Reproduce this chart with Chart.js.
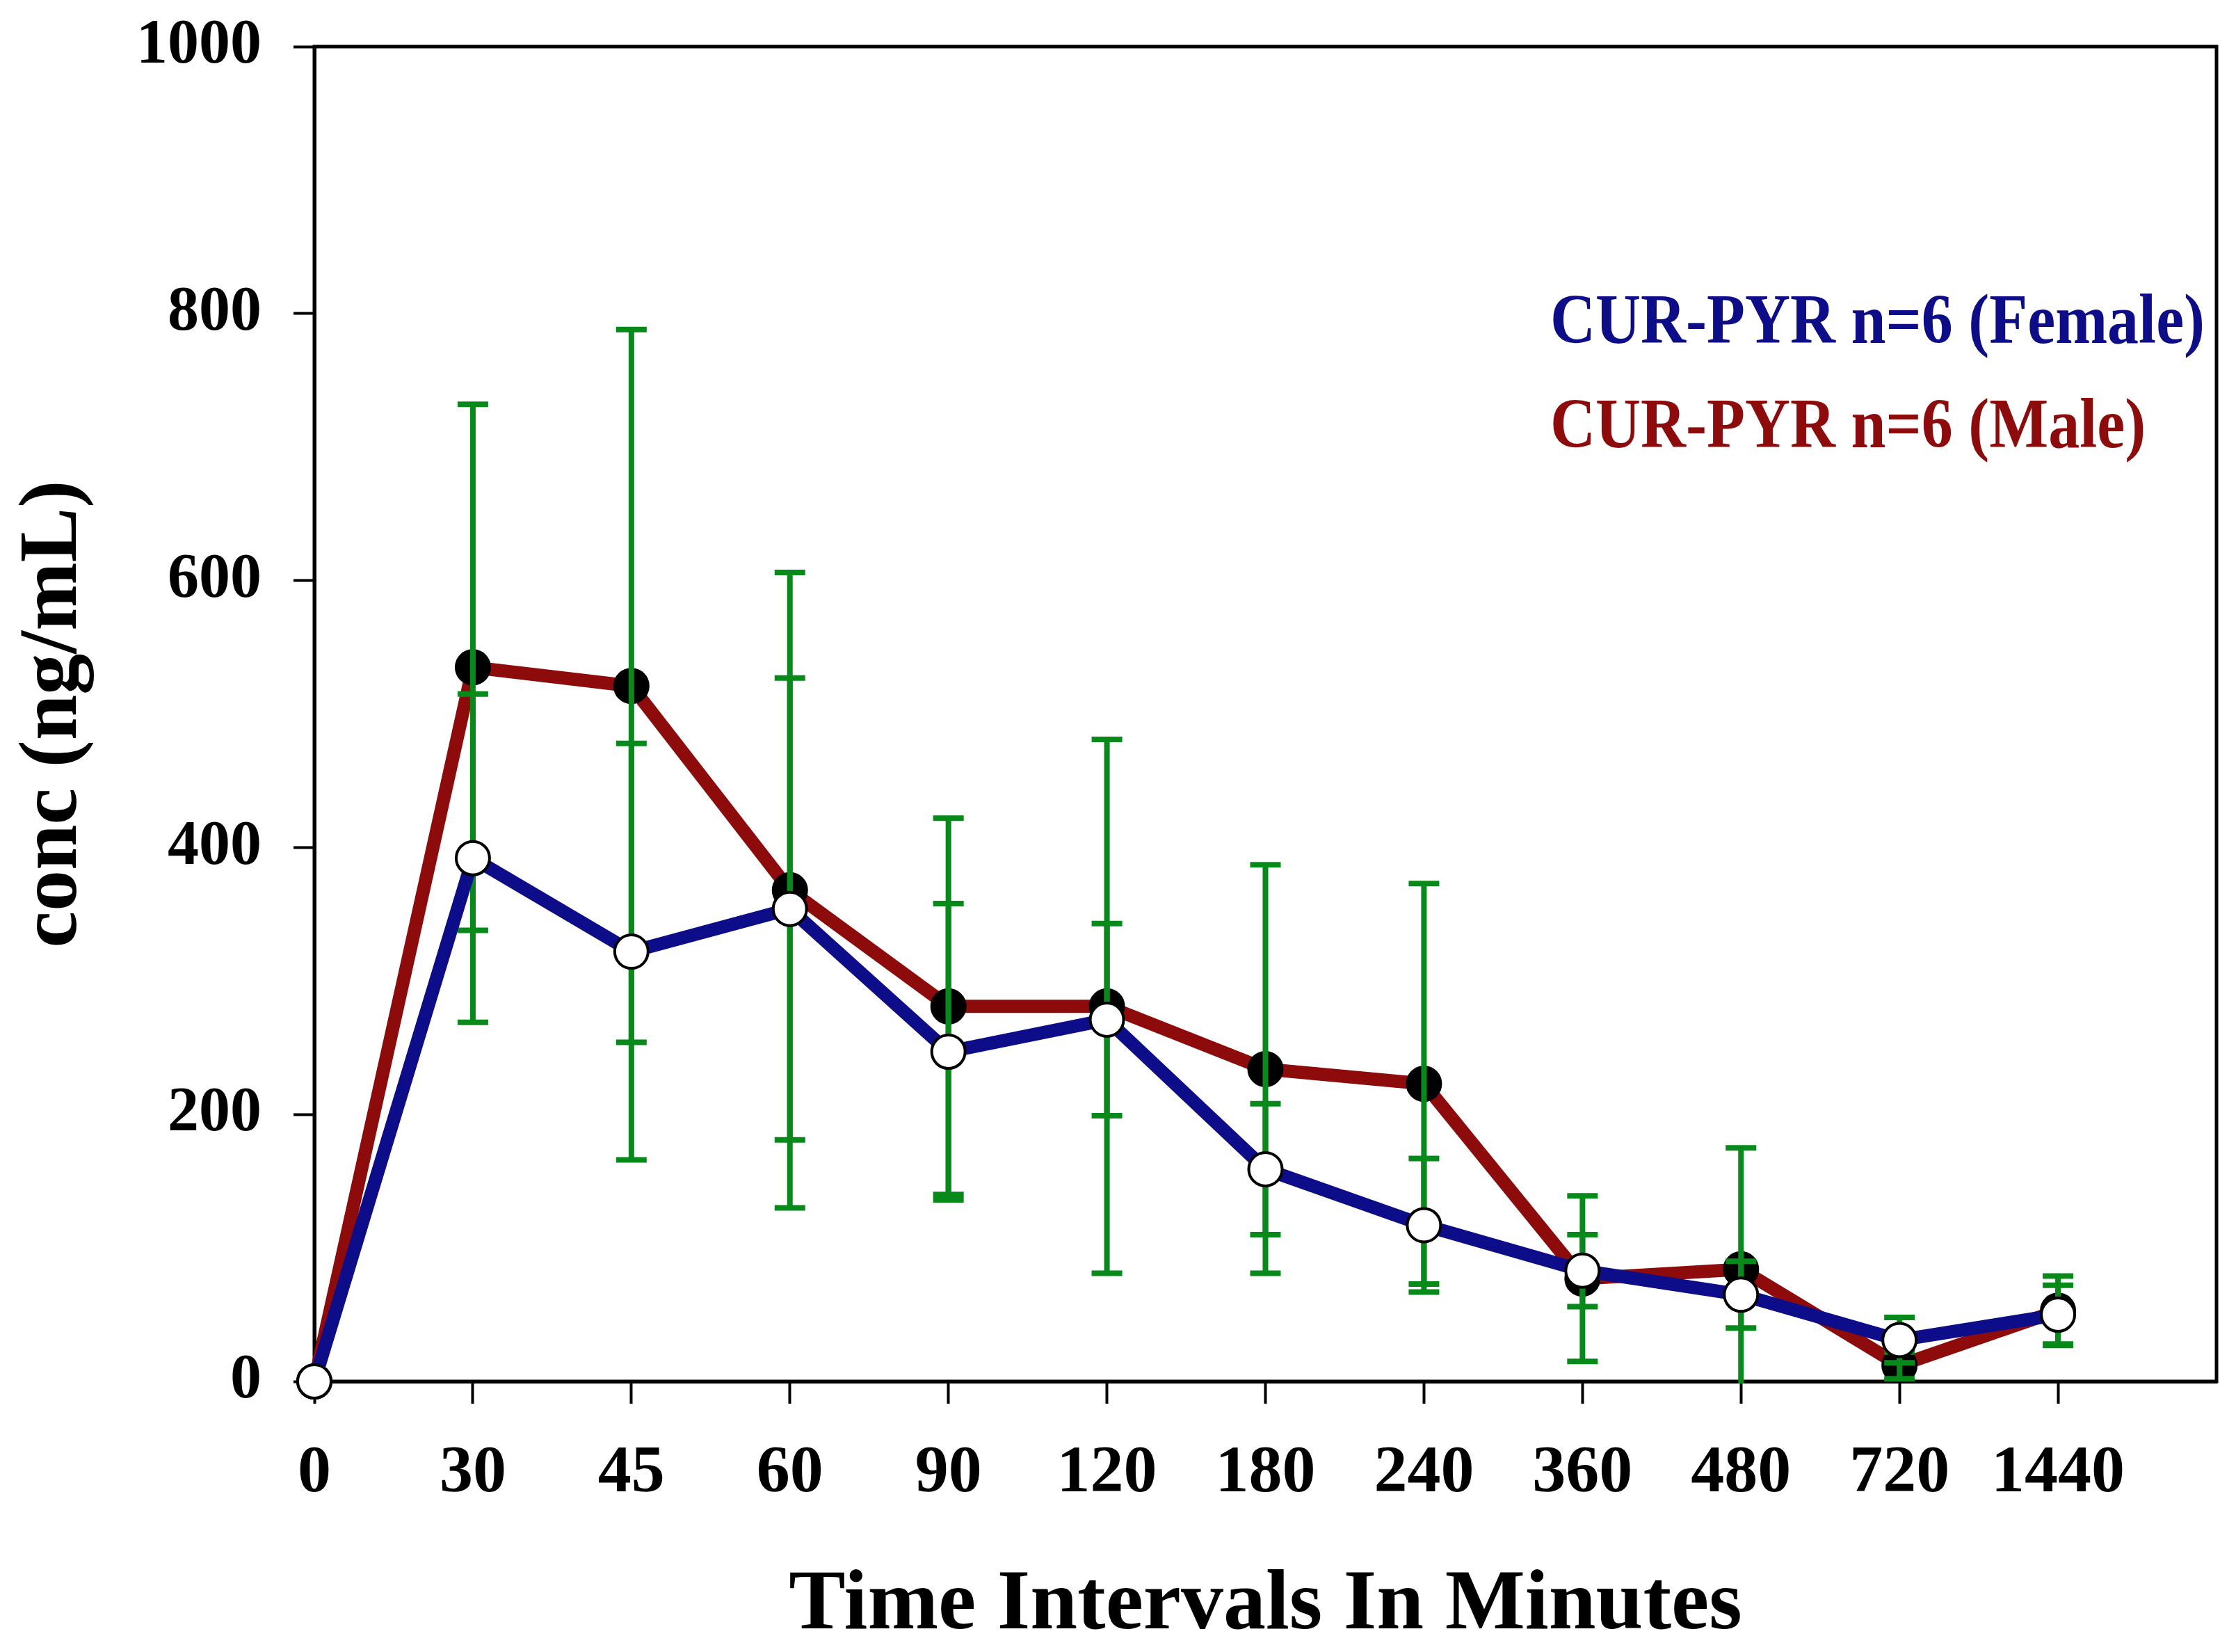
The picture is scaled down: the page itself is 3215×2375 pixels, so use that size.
<!DOCTYPE html>
<html><head><meta charset="utf-8">
<script src="https://cdn.jsdelivr.net/npm/chart.js@4.4.1/dist/chart.umd.min.js"></script>
<style>html,body{margin:0;padding:0;background:#fff;} #wrap{width:3215px;height:2375px;}</style>
</head><body><div id="wrap"><canvas id="c" width="3215" height="2375"></canvas></div>
<script>
const timeLabels = ['0','30','45','60','90','120','180','240','360','480','720','1440'];
const femaleMean = [0,392,322,354,247,271,159,117,83,65,31,50];
const femaleSD   = [0,123,156,173,111,72,49,50,27,25,17,22];
const maleMean   = [0,535,521,368,281,281,234,223,77,84,12,53];
const maleSD     = [0,197,267,238,141,200,153,150,62,91,10,26];
const yTicks = [0,200,400,600,800,1000];
const seriesLabels = ['CUR-PYR n=6 (Female)','CUR-PYR n=6 (Male)'];
const seriesColors = ['#0d0d8a','#8e0b0b'];
const errColor = '#078a1a';
const FONT = '"Liberation Serif", "Times New Roman", serif';

const toPts = arr => arr.map((v,i)=>({x:i,y:v}));

const errorBars = {
  id:'errorBars',
  afterDatasetDraw(chart,args){
    if(args.index!==1) return;
    const {ctx, chartArea:a, scales:{x,y}} = chart;
    ctx.save();
    ctx.beginPath(); ctx.rect(a.left,a.top-5,a.right-a.left,a.bottom-a.top+8); ctx.clip();
    ctx.strokeStyle = errColor; ctx.lineWidth = 8; ctx.lineCap='butt';
    const sets = [[maleMean,maleSD],[femaleMean,femaleSD]];
    sets.forEach(([m,s])=>{
      m.forEach((v,i)=>{
        if(!s[i]) return;
        const px = x.getPixelForValue(i);
        const hi = y.getPixelForValue(v+s[i]);
        const lo = y.getPixelForValue(v-s[i]);
        ctx.beginPath();
        ctx.moveTo(px,hi); ctx.lineTo(px,lo);
        ctx.moveTo(px-22,hi); ctx.lineTo(px+22,hi);
        if (v-s[i] >= 0) { ctx.moveTo(px-22,lo); ctx.lineTo(px+22,lo); }
        ctx.stroke();
      });
    });
    ctx.restore();
  }
};

const frame = {
  id:'frame',
  beforeDatasetsDraw(chart){
    const {ctx, chartArea:a} = chart;
    ctx.save(); ctx.strokeStyle='#000'; ctx.lineWidth=5;
    ctx.strokeRect(a.left,a.top,a.right-a.left,a.bottom-a.top);
    ctx.restore();
  }
};

const textLegend = {
  id:'textLegend',
  afterDraw(chart){
    const {ctx, chartArea:a} = chart;
    ctx.save();
    ctx.font = 'bold 90px ' + FONT;
    ctx.textAlign='left'; ctx.textBaseline='alphabetic';
    chart.data.datasets.forEach((ds,i)=>{
      ctx.save();
      ctx.translate(a.right-958, a.top+426+i*150);
      ctx.scale(1, 1.12);
      ctx.fillStyle = ds.borderColor;
      ctx.fillText(ds.label, 0, 0);
      ctx.restore();
    });
    ctx.restore();
  }
};

function zeroPad(s){ s.paddingTop = 0; s.paddingBottom = 0; s.paddingLeft = 0; s.paddingRight = 0; }

new Chart(document.getElementById('c'),{
  type:'line',
  data:{datasets:[
    {label:seriesLabels[0], data:toPts(femaleMean), borderColor:seriesColors[0], borderWidth:19,
     pointRadius:24, pointBackgroundColor:'#ffffff', pointBorderColor:'#000', pointBorderWidth:4, tension:0, clip:false},
    {label:seriesLabels[1], data:toPts(maleMean), borderColor:seriesColors[1], borderWidth:19,
     pointRadius:25, pointBackgroundColor:'#000', pointBorderColor:'#000', pointBorderWidth:2, tension:0, clip:false}
  ]},
  options:{
    responsive:false, devicePixelRatio:1, animation:false,
    layout:{padding:{top:67,right:20,left:0,bottom:0}},
    plugins:{legend:{display:false}, tooltip:{enabled:false}},
    scales:{
      x:{type:'linear', min:0, max:12,
        afterBuildTicks(s){ s.ticks = timeLabels.map((_,i)=>({value:i})); },
        afterFit(s){ s.height = 389; zeroPad(s); },
        ticks:{callback:(v)=>timeLabels[v], color:'#000', padding:44, maxRotation:0, autoSkip:false,
          font:{family:FONT, weight:'bold', size:96}},
        grid:{drawOnChartArea:false, drawTicks:true, tickLength:32, tickWidth:4, tickColor:'#000'},
        border:{display:true, color:'#000', width:5},
        title:{display:true, text:'Time Intervals In Minutes', color:'#000', padding:{top:0,bottom:-8},
          font:{family:FONT, weight:'bold', size:122}}
      },
      y:{min:0, max:1000,
        afterBuildTicks(s){ s.ticks = yTicks.map(v=>({value:v})); },
        afterFit(s){ s.width = 452; zeroPad(s); },
        ticks:{callback:(v)=>String(v), color:'#000', padding:46, font:{family:FONT, weight:'bold', size:90}},
        grid:{drawOnChartArea:false, drawTicks:true, tickLength:30, tickWidth:4, tickColor:'#000'},
        border:{display:true, color:'#000', width:5},
        title:{display:true, text:'conc (ng/mL)', color:'#000', padding:{top:8,bottom:0},
          font:{family:FONT, weight:'bold', size:118}}
      }
    }
  },
  plugins:[frame, errorBars, textLegend]
});
</script></body></html>
